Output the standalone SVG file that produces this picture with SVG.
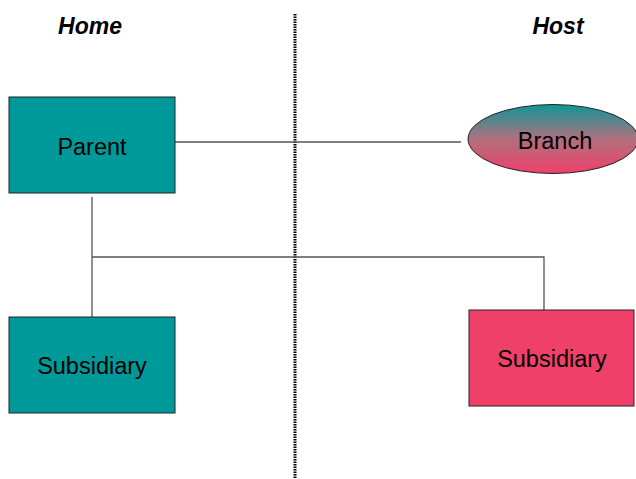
<svg xmlns="http://www.w3.org/2000/svg" width="636" height="479" viewBox="0 0 636 479">
<defs>
<linearGradient id="g" x1="0" y1="0" x2="0" y2="1">
<stop offset="0" stop-color="#0E9696"/>
<stop offset="0.5" stop-color="#B0707E"/>
<stop offset="1" stop-color="#F0406A"/>
</linearGradient>
</defs>
<style>
.box{stroke:#222;stroke-width:1}
.teal{fill:#009999}
.pink{fill:#F0406A}
.lbl{font-family:"Liberation Sans",Arial,sans-serif;font-size:23.5px;fill:#000;text-anchor:middle}
.ttl{font-family:"Liberation Sans",Arial,sans-serif;font-size:23px;font-weight:bold;font-style:italic;fill:#000;text-anchor:middle}
.con{stroke:#555;stroke-width:1.3;fill:none}
</style>
<rect width="636" height="479" fill="#fff"/>
<line x1="295" y1="14" x2="295" y2="479" stroke="#000" stroke-width="3" stroke-dasharray="1.5,1"/>
<text class="ttl" x="90" y="34">Home</text>
<text class="ttl" x="558" y="34">Host</text>
<g id="connectors">
<line class="con" x1="175" y1="142" x2="461" y2="142"/>
<line class="con" x1="92" y1="197" x2="92" y2="317"/>
<polyline class="con" points="92,257 544,257 544,310"/>
</g>
<g id="parent">
<rect class="box teal" x="9" y="97" width="166" height="96"/>
<text class="lbl" x="92" y="155">Parent</text>
</g>
<g id="branch">
<ellipse cx="553" cy="139" rx="85" ry="34.5" fill="url(#g)" stroke="#222" stroke-width="1"/>
<text class="lbl" x="555" y="149">Branch</text>
</g>
<g id="subsidiary-home">
<rect class="box teal" x="9" y="317" width="166" height="96"/>
<text class="lbl" x="92" y="374">Subsidiary</text>
</g>
<g id="subsidiary-host">
<rect class="box pink" x="469" y="310" width="165" height="96"/>
<text class="lbl" x="552" y="367">Subsidiary</text>
</g>
</svg>
